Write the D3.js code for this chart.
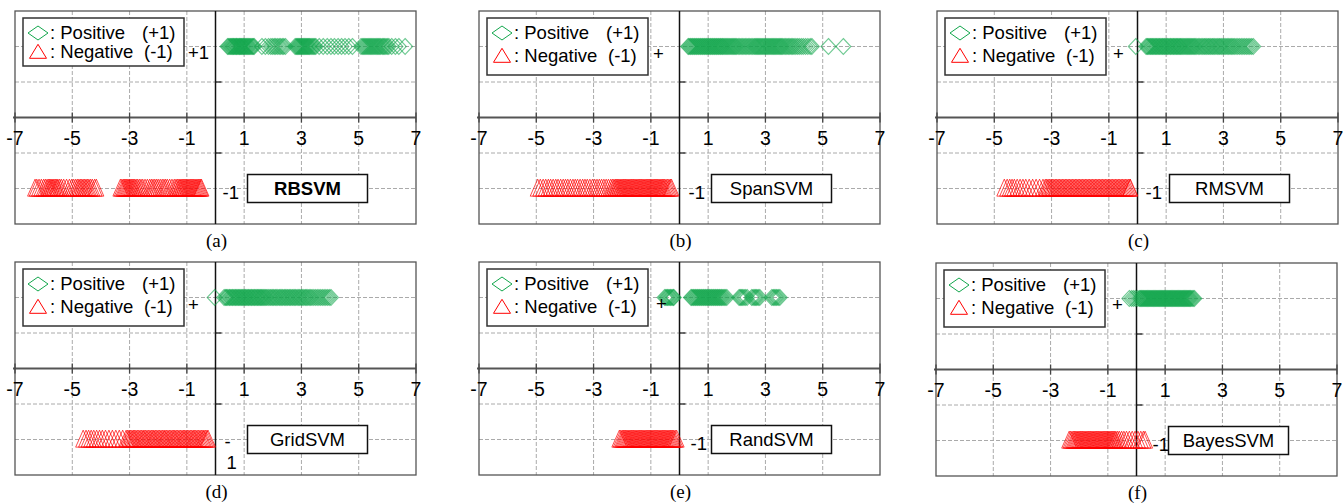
<!DOCTYPE html>
<html>
<head>
<meta charset="utf-8">
<script src="https://cdn.jsdelivr.net/npm/d3@7"></script>
<style>
  body { margin: 0; background: #fff; }
  text { font-family: "Liberation Sans", Arial, sans-serif; }
</style>
</head>
<body>
<div id="chart"></div>
<script>
const xTicks = [-7, -5, -3, -1, 1, 3, 5, 7];
const xGrid = [-5, -3, -1, 1, 3, 5];
const yGrid = [-1, -0.5, 0.5, 1];
const methods = ["RBSVM", "SpanSVM", "RMSVM", "GridSVM", "RandSVM", "BayesSVM"];
const captions = ["(a)", "(b)", "(c)", "(d)", "(e)", "(f)"];
const posLabels = ["+1", "+", "+", "+", "+", "+"];
const negLabels = [["-1"], ["-1"], ["-1"], ["-", "1"], ["-1"], ["-1"]];

// positive samples (+1) per method
const posRB = [0.42, 0.45, 0.49, 0.52, 0.55, 0.58, 0.61, 0.63, 0.66, 0.69, 0.72, 0.74, 0.77, 0.8, 0.83, 0.85, 0.88, 0.9, 0.93,
  0.96, 0.98, 1.01, 1.04, 1.07, 1.1, 1.13, 1.16, 1.19, 1.22, 1.26, 1.29, 1.32, 1.35,
  1.62, 1.74, 1.85, 1.93, 1.99, 2.05, 2.1, 2.16, 2.22, 2.27, 2.33, 2.38, 2.44,
  2.78, 2.82, 2.85, 2.88, 2.91, 2.94, 2.97, 3.0, 3.03, 3.06, 3.09, 3.12, 3.15, 3.18, 3.21, 3.24, 3.27, 3.3, 3.34, 3.38, 3.42, 3.46, 3.5,
  3.62, 3.76, 3.9, 4.03, 4.15, 4.28, 4.4, 4.52, 4.65, 4.78,
  5.08, 5.13, 5.17, 5.21, 5.25, 5.29, 5.33, 5.37, 5.41, 5.45, 5.49, 5.53, 5.57, 5.61, 5.65, 5.69, 5.73, 5.77, 5.82, 5.86, 5.9,
  5.95, 6.0, 6.05, 6.15, 6.28, 6.4, 6.62];
const posSpan = [0.3, 0.33, 0.37, 0.4, 0.44, 0.47, 0.51, 0.54, 0.58, 0.61, 0.65, 0.68, 0.72, 0.75, 0.79, 0.82, 0.86, 0.89, 0.93,
  0.96, 1.0, 1.03, 1.07, 1.1, 1.14, 1.17, 1.21, 1.24, 1.28, 1.31, 1.35, 1.38, 1.42, 1.45, 1.49, 1.52, 1.56, 1.6, 1.64, 1.68,
  1.72, 1.76, 1.8, 1.84, 1.88, 1.92, 1.96, 2.0, 2.05, 2.1, 2.15, 2.2, 2.25, 2.3, 2.35, 2.4, 2.45, 2.5, 2.55, 2.6, 2.64, 2.68,
  2.72, 2.76, 2.8, 2.84, 2.88, 2.92, 2.96, 3.0, 3.04, 3.08, 3.12, 3.16, 3.2, 3.24, 3.28, 3.32, 3.36, 3.4, 3.44, 3.48, 3.52,
  3.56, 3.6, 3.65, 3.7, 3.75, 3.8, 3.85, 3.9, 3.95, 4.0, 4.06, 4.12, 4.18, 4.25, 4.32, 4.4, 4.48, 4.56, 4.62, 5.2, 5.72];
const posRM = [-0.06, 0.3, 0.34, 0.37, 0.41, 0.45, 0.48, 0.52, 0.55, 0.59, 0.63, 0.66, 0.7, 0.74, 0.77, 0.81, 0.85, 0.88, 0.92,
  0.95, 0.99, 1.03, 1.06, 1.1, 1.14, 1.17, 1.21, 1.25, 1.28, 1.32, 1.36, 1.39, 1.43, 1.47, 1.5, 1.54, 1.58, 1.62, 1.66, 1.7,
  1.74, 1.78, 1.82, 1.86, 1.9, 1.94, 1.98, 2.02, 2.07, 2.12, 2.17, 2.22, 2.27, 2.32, 2.36, 2.41, 2.46, 2.5, 2.55, 2.6, 2.64,
  2.69, 2.74, 2.79, 2.84, 2.88, 2.93, 2.98, 3.03, 3.08, 3.13, 3.18, 3.23, 3.28, 3.33, 3.38, 3.44, 3.5, 3.56, 3.62, 3.68,
  3.74, 3.8, 3.86, 3.92, 3.98, 4.04];
const posGrid = [-0.03, 0.3, 0.35, 0.38, 0.42, 0.47, 0.5, 0.54, 0.58, 0.61, 0.65, 0.69, 0.72, 0.76, 0.8, 0.83, 0.87, 0.91, 0.94,
  0.98, 1.02, 1.05, 1.09, 1.13, 1.16, 1.2, 1.24, 1.27, 1.31, 1.35, 1.38, 1.42, 1.46, 1.49, 1.53, 1.57, 1.6, 1.64, 1.68, 1.72,
  1.76, 1.8, 1.85, 1.9, 1.94, 1.99, 2.03, 2.08, 2.12, 2.17, 2.22, 2.26, 2.31, 2.35, 2.4, 2.44, 2.49, 2.53, 2.58, 2.62, 2.67,
  2.71, 2.76, 2.8, 2.85, 2.9, 2.94, 2.99, 3.03, 3.08, 3.13, 3.17, 3.22, 3.27, 3.32, 3.37, 3.43, 3.49, 3.55, 3.61, 3.67, 3.73,
  3.79, 3.85, 3.91, 3.97, 4.03];
const posRand = [-0.52, -0.48, -0.44, -0.41, -0.37, -0.33, -0.3, -0.26, -0.22, -0.2,
  0.4, 0.43, 0.47, 0.5, 0.54, 0.57, 0.61, 0.64, 0.68, 0.71, 0.75, 0.78, 0.82, 0.85, 0.89, 0.92, 0.96, 0.99, 1.03, 1.06, 1.1,
  1.13, 1.17, 1.2, 1.24, 1.27, 1.31, 1.34, 1.38, 1.41, 1.45, 1.48, 1.52, 1.56, 1.6, 1.65,
  2.08, 2.12, 2.16, 2.2, 2.25, 2.3, 2.36, 2.52, 2.57, 2.62, 2.66, 2.7, 2.75, 2.8, 3.22, 3.27, 3.31, 3.36, 3.4, 3.45, 3.5];
const posBayes = [-0.25, -0.17, -0.1, -0.03, 0.04, 0.1, 0.13, 0.16, 0.19, 0.22, 0.25, 0.28, 0.31, 0.34, 0.37, 0.4, 0.43, 0.46,
  0.49, 0.52, 0.55, 0.58, 0.61, 0.64, 0.67, 0.7, 0.73, 0.76, 0.79, 0.82, 0.85, 0.88, 0.91, 0.94, 0.97, 1.0, 1.03, 1.06, 1.09,
  1.12, 1.15, 1.18, 1.21, 1.24, 1.27, 1.3, 1.33, 1.36, 1.39, 1.42, 1.45, 1.48, 1.51, 1.54, 1.57, 1.6, 1.63, 1.66, 1.69, 1.72,
  1.75, 1.78, 1.81, 1.84, 1.87, 1.9, 1.94, 1.98, 2.02];

// negative samples (-1) per method
const negRB = [-6.3, -6.24, -6.16, -6.08, -6.0, -5.94, -5.88, -5.83, -5.79, -5.75, -5.71, -5.67, -5.63, -5.58, -5.54, -5.5,
  -5.44, -5.38, -5.3, -5.2, -5.1, -5.02, -4.95, -4.88, -4.82, -4.77, -4.72, -4.67, -4.62, -4.57, -4.52, -4.47, -4.42, -4.36,
  -4.3, -4.22, -4.16,
  -3.32, -3.27, -3.22, -3.18, -3.14, -3.1, -3.06, -3.02, -2.98, -2.94, -2.9, -2.86, -2.82, -2.77, -2.72, -2.66, -2.6, -2.54,
  -2.46, -2.38, -2.3, -2.24, -2.18, -2.12, -2.06, -2.0, -1.93, -1.86, -1.8, -1.74, -1.68, -1.6, -1.52, -1.44, -1.38, -1.33,
  -1.28, -1.24, -1.2, -1.16, -1.12, -1.08, -1.04, -1.0, -0.96, -0.92, -0.88, -0.84, -0.8, -0.76, -0.72, -0.68, -0.64, -0.6,
  -0.56, -0.52, -0.49];
const negSpan = [-4.95, -4.86, -4.76, -4.67, -4.58, -4.5, -4.41, -4.32, -4.24, -4.15, -4.06, -3.98, -3.9, -3.81, -3.72, -3.64,
  -3.56, -3.47, -3.38, -3.3, -3.22, -3.13, -3.04, -2.96, -2.88, -2.8, -2.72, -2.64, -2.56, -2.48, -2.4, -2.34, -2.29, -2.24,
  -2.2, -2.16, -2.12, -2.08, -2.04, -2.0, -1.96, -1.92, -1.88, -1.84, -1.8, -1.76, -1.72, -1.68, -1.64, -1.6, -1.56, -1.52,
  -1.48, -1.44, -1.4, -1.36, -1.32, -1.28, -1.24, -1.2, -1.16, -1.12, -1.08, -1.04, -1.0, -0.96, -0.92, -0.88, -0.84, -0.8,
  -0.76, -0.72, -0.68, -0.64, -0.6, -0.56, -0.52, -0.47, -0.42, -0.37, -0.32, -0.28];
const negRM = [-4.65, -4.55, -4.46, -4.38, -4.3, -4.2, -4.1, -4.0, -3.9, -3.78, -3.66, -3.54, -3.42, -3.3, -3.22, -3.17, -3.12,
  -3.07, -3.02, -2.97, -2.92, -2.87, -2.82, -2.77, -2.72, -2.67, -2.62, -2.57, -2.52, -2.47, -2.42, -2.37, -2.32, -2.27,
  -2.22, -2.17, -2.12, -2.07, -2.02, -1.97, -1.92, -1.87, -1.82, -1.77, -1.72, -1.67, -1.62, -1.57, -1.52, -1.47, -1.42,
  -1.37, -1.32, -1.27, -1.22, -1.17, -1.12, -1.07, -1.02, -0.97, -0.92, -0.87, -0.82, -0.77, -0.72, -0.67, -0.62, -0.57,
  -0.52, -0.47, -0.42, -0.37, -0.32, -0.27, -0.25];
const negGrid = [-4.62, -4.52, -4.43, -4.34, -4.25, -4.15, -4.05, -3.95, -3.84, -3.72, -3.6, -3.48, -3.36, -3.24, -3.12, -3.07,
  -3.02, -2.97, -2.92, -2.87, -2.83, -2.78, -2.73, -2.68, -2.63, -2.58, -2.53, -2.49, -2.44, -2.39, -2.34, -2.29, -2.24,
  -2.19, -2.15, -2.1, -2.05, -2.0, -1.95, -1.9, -1.85, -1.8, -1.76, -1.71, -1.66, -1.61, -1.56, -1.51, -1.46, -1.42, -1.37,
  -1.32, -1.27, -1.22, -1.17, -1.12, -1.08, -1.03, -0.98, -0.93, -0.88, -0.83, -0.78, -0.74, -0.69, -0.64, -0.59, -0.54,
  -0.49, -0.44, -0.4, -0.35, -0.3, -0.26];
const negRand = [-2.1, -2.05, -2.0, -1.96, -1.92, -1.88, -1.84, -1.8, -1.76, -1.72, -1.68, -1.64, -1.6, -1.56, -1.52, -1.48,
  -1.44, -1.4, -1.36, -1.32, -1.28, -1.24, -1.2, -1.16, -1.12, -1.08, -1.04, -1.0, -0.96, -0.92, -0.88, -0.84, -0.8, -0.76,
  -0.72, -0.68, -0.64, -0.6, -0.56, -0.52, -0.48, -0.44, -0.4, -0.36, -0.32, -0.28, -0.24, -0.2, -0.15, -0.1];
const negBayes = [-2.35, -2.3, -2.25, -2.2, -2.16, -2.12, -2.08, -2.04, -2.0, -1.96, -1.92, -1.88, -1.84, -1.8, -1.76, -1.72,
  -1.68, -1.64, -1.6, -1.56, -1.52, -1.48, -1.44, -1.4, -1.36, -1.32, -1.28, -1.24, -1.2, -1.16, -1.12, -1.08, -1.04, -1.0,
  -0.96, -0.92, -0.88, -0.84, -0.8, -0.76, -0.72, -0.66, -0.6, -0.52, -0.44, -0.35, -0.25, -0.15, -0.05, 0.05, 0.15, 0.24, 0.3];

const positives = [posRB, posSpan, posRM, posGrid, posRand, posBayes];
const negatives = [negRB, negSpan, negRM, negGrid, negRand, negBayes];

// panel placement
const layout = [
  { x: 15, y: 11, legH: 48, pos: [-17, 6], neg: [7, 4] },
  { x: 479, y: 11, legH: 57, pos: [-21, 7], neg: [9, 4] },
  { x: 937, y: 11, legH: 57, pos: [-19, 7], neg: [8, 4] },
  { x: 15, y: 262, legH: 57, pos: [-22, 7], neg: [9, 2] },
  { x: 479, y: 262, legH: 57, pos: [-18, 6], neg: [11, 4] },
  { x: 936, y: 263, legH: 57, pos: [-19, 6], neg: [16, 4] }
];
const W = 401, H = 213;
const green = "#12a64c", red = "#ff0000";
const font = 18.5, tickFont = 19.5;

const diamond = (w, h) => `M0,${-h}L${w},0L0,${h}L${-w},0Z`;
const triangle = (w, h) => `M0,${-h * 0.55}L${w},${h * 0.45}L${-w},${h * 0.45}Z`;

const svg = d3.select("#chart").append("svg")
  .attr("width", 1343).attr("height", 504);

methods.forEach((name, i) => {
  const L = layout[i];
  const x = d3.scaleLinear().domain([-7, 7]).range([L.x, L.x + W]);
  const y = d3.scaleLinear().domain([-1.5, 1.5]).range([L.y + H, L.y]);
  const g = svg.append("g");
  const x0 = x(0), y0 = y(0);

  g.selectAll(".vg").data(xGrid).enter().append("line")
    .attr("x1", d => x(d)).attr("x2", d => x(d))
    .attr("y1", L.y).attr("y2", L.y + H)
    .attr("stroke", "#aaa").attr("stroke-dasharray", "4,2");
  g.selectAll(".hg").data(yGrid).enter().append("line")
    .attr("y1", d => y(d)).attr("y2", d => y(d))
    .attr("x1", L.x).attr("x2", L.x + W)
    .attr("stroke", "#aaa").attr("stroke-dasharray", "4,2");

  g.append("rect").attr("x", L.x).attr("y", L.y).attr("width", W).attr("height", H)
    .attr("fill", "none").attr("stroke", "#555").attr("stroke-width", 1.3);

  // x axis
  g.append("line").attr("x1", L.x - 2).attr("x2", L.x + W).attr("y1", y0).attr("y2", y0)
    .attr("stroke", "#555").attr("stroke-width", 2);
  g.selectAll(".xt").data(xTicks).enter().append("line")
    .attr("x1", d => x(d)).attr("x2", d => x(d))
    .attr("y1", y0 - 5).attr("y2", y0 + 5)
    .attr("stroke", "#444").attr("stroke-width", 1.3);
  g.selectAll(".xl").data(xTicks).enter().append("text")
    .attr("x", d => x(d)).attr("y", y0 + 27)
    .attr("text-anchor", "middle").attr("font-size", tickFont)
    .text(d => d);

  // y axis
  g.append("line").attr("x1", x0).attr("x2", x0).attr("y1", L.y).attr("y2", L.y + H)
    .attr("stroke", "#111").attr("stroke-width", 1.5);
  g.selectAll(".yt").data([-0.5, 0.5]).enter().append("line")
    .attr("x1", x0).attr("x2", x0 + 6)
    .attr("y1", d => y(d)).attr("y2", d => y(d))
    .attr("stroke", "#222").attr("stroke-width", 1.3);

  // markers
  g.selectAll(".neg").data(negatives[i]).enter().append("path")
    .attr("d", triangle(7.5, 17))
    .attr("transform", d => `translate(${x(d)},${y(-1)})`)
    .attr("fill", "none").attr("stroke", red).attr("stroke-opacity", 0.7).attr("stroke-width", 1);
  g.selectAll(".pos").data(positives[i]).enter().append("path")
    .attr("d", diamond(7.5, 8))
    .attr("transform", d => `translate(${x(d)},${y(1)})`)
    .attr("fill", "none").attr("stroke", green).attr("stroke-opacity", 0.6).attr("stroke-width", 1.1);

  // y labels
  g.append("text").attr("x", x0 + L.pos[0]).attr("y", y(1) + L.pos[1])
    .attr("dy", "0.35em").attr("text-anchor", "middle").attr("font-size", font)
    .text(posLabels[i]);
  negLabels[i].forEach((t, k) => {
    g.append("text").attr("x", x0 + L.neg[0] + k * 2).attr("y", y(-1) + L.neg[1] + k * 21)
      .attr("dy", "0.35em").attr("font-size", font).text(t);
  });

  // legend
  const lx = L.x + 8, ly = L.y + 7;
  g.append("rect").attr("x", lx).attr("y", ly).attr("width", 161).attr("height", L.legH)
    .attr("fill", "#fff").attr("stroke", "#333").attr("stroke-width", 1.5);
  const r1 = ly + 15, r2 = ly + (L.legH > 50 ? 38 : 34);
  g.append("path").attr("d", diamond(10, 7)).attr("transform", `translate(${lx + 15},${r1})`)
    .attr("fill", "none").attr("stroke", green).attr("stroke-width", 1);
  g.append("path").attr("d", triangle(8.5, 14)).attr("transform", `translate(${lx + 15},${r2})`)
    .attr("fill", "none").attr("stroke", red).attr("stroke-width", 1);
  g.append("text").attr("x", lx + 27).attr("y", r1).attr("dy", "0.35em").attr("font-size", font).text(": Positive");
  g.append("text").attr("x", lx + 119).attr("y", r1).attr("dy", "0.35em").attr("font-size", font).text("(+1)");
  g.append("text").attr("x", lx + 27).attr("y", r2).attr("dy", "0.35em").attr("font-size", font).text(": Negative");
  g.append("text").attr("x", lx + 121).attr("y", r2).attr("dy", "0.35em").attr("font-size", font).text("(-1)");

  // method box
  g.append("rect").attr("x", x0 + 32).attr("y", y(-1) - 14).attr("width", 120).attr("height", 28)
    .attr("fill", "#fff").attr("stroke", "#111").attr("stroke-width", 1.5);
  g.append("text").attr("x", x0 + 92).attr("y", y(-1)).attr("dy", "0.35em")
    .attr("text-anchor", "middle").attr("font-size", font)
    .attr("font-weight", i === 0 ? "bold" : "normal")
    .text(name);

  // caption
  g.append("text").attr("x", L.x + W / 2 + 1).attr("y", L.y + H + 17).attr("dy", "0.32em")
    .attr("text-anchor", "middle").attr("font-size", 19)
    .style("font-family", "'Liberation Serif', 'Times New Roman', serif")
    .text(captions[i]);
});
</script>
</body>
</html>
